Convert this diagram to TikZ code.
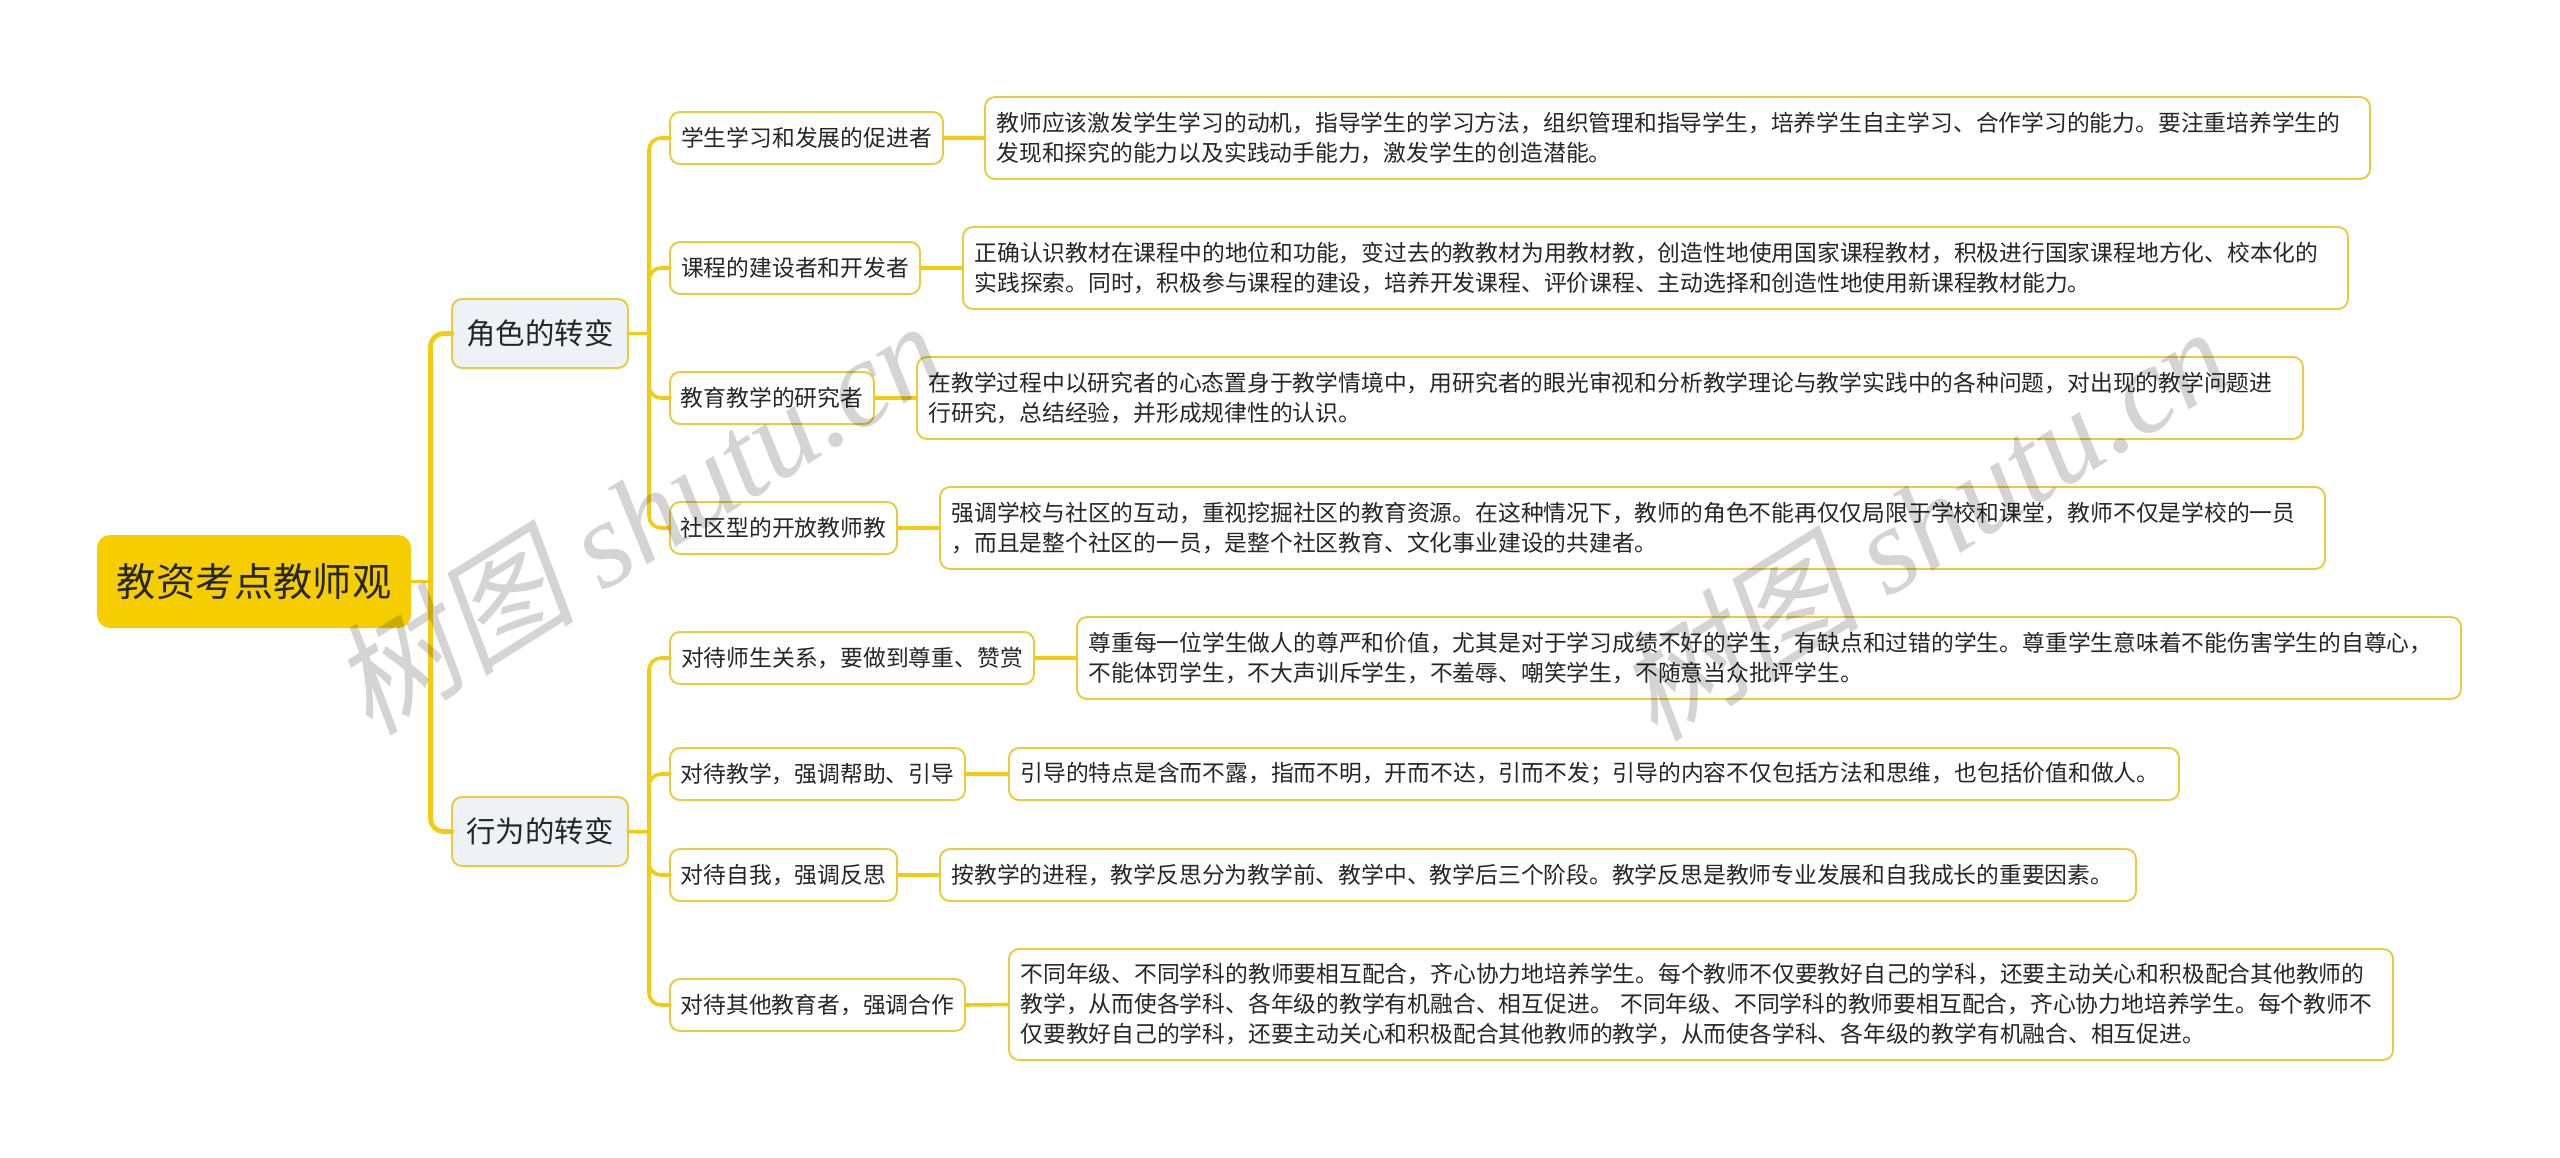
\documentclass[tikz,border=0pt]{standalone}
\usepackage{fontspec}
\setmainfont{Noto Sans CJK SC}
\newfontfamily\wmcjk[FakeSlant=0.2]{Noto Sans CJK SC}
\newfontfamily\wmlat{Liberation Serif}
\definecolor{linecol}{HTML}{F3CC12}
\definecolor{bordercol}{HTML}{EACA3E}
\definecolor{rootfill}{HTML}{F6CE00}
\definecolor{subfill}{HTML}{EEF1F5}
\definecolor{inkcol}{HTML}{262626}
\tikzset{
  x=1pt,y=-1pt,
  basebox/.style={anchor=north west,rectangle,outer sep=0pt,inner sep=0pt,rounded corners=10pt,text=inkcol},
  rootbox/.style={basebox,fill=rootfill,rounded corners=13pt,font=\fontsize{39.2}{46}\selectfont},
  subbox/.style={basebox,fill=subfill,draw=bordercol,line width=1.9pt,font=\fontsize{29.4}{36}\selectfont},
  itembox/.style={basebox,fill=white,draw=bordercol,line width=1.9pt,font=\fontsize{22.78}{30}\selectfont},
  descbox/.style={itembox,align=left,inner xsep=11.5pt},
  size/.style 2 args={minimum width=#1,minimum height=#2},
  conn/.style={draw=linecol,line width=3.6pt,line cap=round},
  trunk/.style={conn,line width=4.8pt,rounded corners=13pt},
  branch/.style={conn,rounded corners=12pt},
  mark text/.style={text=black,text opacity=.17,rotate=32,inner sep=0pt,font=\fontsize{123}{130}\selectfont}
}
\begin{document}
\begin{tikzpicture}
\useasboundingbox (0,0) rectangle (2560,1158);

\coordinate (t0) at (430.5,581.5);
\coordinate (ta) at (649,333.5);
\coordinate (tb) at (649,832);

\node[rootbox,size={314}{93}] (root) at (97,535) {教资考点教师观};
\node[subbox,size={176}{69}] (a) at (452,299) {角色的转变};
\node[subbox,size={176}{69}] (b) at (452,797) {行为的转变};

\node[itembox,size={273}{52}] (a1) at (670,112) {学生学习和发展的促进者};
\node[itembox,size={250}{52}] (a2) at (670,242) {课程的建设者和开发者};
\node[itembox,size={204}{52}] (a3) at (670,372) {教育教学的研究者};
\node[itembox,size={227}{52}] (a4) at (670,502) {社区型的开放教师教};
\node[itembox,size={364}{52}] (b1) at (670,632) {对待师生关系，要做到尊重、赞赏};
\node[itembox,size={295}{52}] (b2) at (670,748) {对待教学，强调帮助、引导};
\node[itembox,size={227}{52}] (b3) at (670,849) {对待自我，强调反思};
\node[itembox,size={295}{52}] (b4) at (670,979) {对待其他教育者，强调合作};

\node[descbox,size={1385}{82},text width=1362pt] (d1) at (985,97) {教师应该激发学生学习的动机，指导学生的学习方法，组织管理和指导学生，培养学生自主学习、合作学习的能力。要注重培养学生的\\发现和探究的能力以及实践动手能力，激发学生的创造潜能。};
\node[descbox,size={1385}{82},text width=1362pt] (d2) at (963,227) {正确认识教材在课程中的地位和功能，变过去的教教材为用教材教，创造性地使用国家课程教材，积极进行国家课程地方化、校本化的\\实践探索。同时，积极参与课程的建设，培养开发课程、评价课程、主动选择和创造性地使用新课程教材能力。};
\node[descbox,size={1386}{82},text width=1363pt] (d3) at (917,357) {在教学过程中以研究者的心态置身于教学情境中，用研究者的眼光审视和分析教学理论与教学实践中的各种问题，对出现的教学问题进\\行研究，总结经验，并形成规律性的认识。};
\node[descbox,size={1385}{82},text width=1362pt] (d4) at (940,487) {强调学校与社区的互动，重视挖掘社区的教育资源。在这种情况下，教师的角色不能再仅仅局限于学校和课堂，教师不仅是学校的一员\\，而且是整个社区的一员，是整个社区教育、文化事业建设的共建者。};
\node[descbox,size={1384}{82},text width=1361pt] (d5) at (1077,617) {尊重每一位学生做人的尊严和价值，尤其是对于学习成绩不好的学生，有缺点和过错的学生。尊重学生意味着不能伤害学生的自尊心，\\不能体罚学生，不大声训斥学生，不羞辱、嘲笑学生，不随意当众批评学生。};
\node[descbox,size={1170}{52},text width=1147pt] (d6) at (1009,748) {引导的特点是含而不露，指而不明，开而不达，引而不发；引导的内容不仅包括方法和思维，也包括价值和做人。};
\node[descbox,size={1196}{52},text width=1173pt] (d7) at (940,849) {按教学的进程，教学反思分为教学前、教学中、教学后三个阶段。教学反思是教师专业发展和自我成长的重要因素。};
\node[descbox,size={1384}{111},text width=1361pt] (d8) at (1009,949) {不同年级、不同学科的教师要相互配合，齐心协力地培养学生。每个教师不仅要教好自己的学科，还要主动关心和积极配合其他教师的\\教学，从而使各学科、各年级的教学有机融合、相互促进。 不同年级、不同学科的教师要相互配合，齐心协力地培养学生。每个教师不\\仅要教好自己的学科，还要主动关心和积极配合其他教师的教学，从而使各学科、各年级的教学有机融合、相互促进。};

\draw[conn] (root.east) -- (t0);
\draw[trunk] (t0) |- (a.west);
\draw[trunk] (t0) |- (b.west);
\draw[conn] (a.east) -- (ta);
\draw[conn] (b.east) -- (tb);
\foreach \n in {a1,a2,a3,a4} \draw[branch] (ta) |- (\n.west);
\foreach \n in {b1,b2,b3,b4} \draw[branch] (tb) |- (\n.west);
\foreach \n/\m in {a1/d1,a2/d2,a3/d3,a4/d4,b1/d5,b2/d6,b3/d7,b4/d8} \draw[conn,line cap=butt] (\n.east) -- (\m.west);

\node[mark text] (w1) at (637,516) {{\wmcjk 树图} {\wmlat\itshape shutu.cn}};
\node[mark text] (w2) at (1922,522) {{\wmcjk 树图} {\wmlat\itshape shutu.cn}};
\end{tikzpicture}
\end{document}
